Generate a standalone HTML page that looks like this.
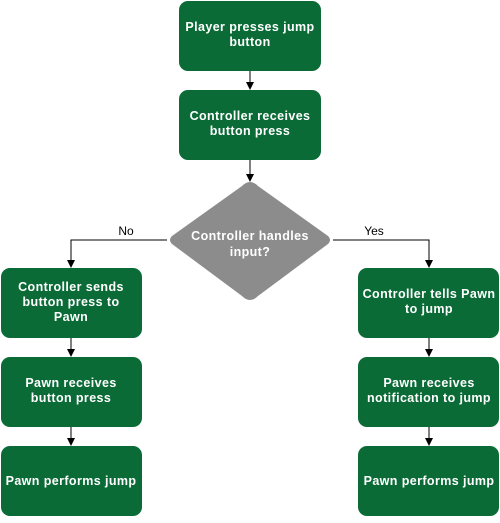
<!DOCTYPE html>
<html><head><style>
body{margin:0;background:#fff;width:500px;height:518px;overflow:hidden}
</style></head><body>
<svg width="500" height="518" viewBox="0 0 500 518" xmlns="http://www.w3.org/2000/svg" font-family="Liberation Sans, sans-serif">
<defs><marker id="a" markerWidth="8" markerHeight="8" refX="7" refY="4" orient="auto" markerUnits="userSpaceOnUse"><path d="M0,0 L8,4 L0,8 Z" fill="#000"/></marker></defs>
<g stroke="#000" stroke-width="1" fill="none">
<line x1="250" y1="71" x2="250" y2="89" marker-end="url(#a)"/>
<line x1="250" y1="160" x2="250" y2="181" marker-end="url(#a)"/>
<polyline points="167,240 71,240 71,267" marker-end="url(#a)"/>
<polyline points="333,240 429,240 429,267" marker-end="url(#a)"/>
<line x1="71" y1="338" x2="71" y2="356" marker-end="url(#a)"/>
<line x1="71" y1="427" x2="71" y2="445" marker-end="url(#a)"/>
<line x1="429" y1="338" x2="429" y2="356" marker-end="url(#a)"/>
<line x1="429" y1="427" x2="429" y2="445" marker-end="url(#a)"/>
</g>
<g fill="#0b6b37">
<rect x="179" y="1" width="142" height="70" rx="9"/>
<rect x="179" y="90" width="142" height="70" rx="9"/>
<rect x="1" y="268" width="141" height="70" rx="9"/>
<rect x="1" y="357" width="141" height="70" rx="9"/>
<rect x="1" y="446" width="141" height="70" rx="9"/>
<rect x="358" y="268" width="141" height="70" rx="9"/>
<rect x="358" y="357" width="141" height="70" rx="9"/>
<rect x="358" y="446" width="141" height="70" rx="9"/>
</g>
<path d="M250,182 Q254,182 258,186 L328,236 Q332,240 328,244 L258,296 Q254,300 250,300 Q246,300 242,296 L172,244 Q168,240 172,236 L242,186 Q246,182 250,182 Z" fill="#8c8c8c"/>
<g fill="#fff" font-size="12.5" font-weight="bold" text-anchor="middle" letter-spacing="0.4">
<text x="250" y="31">Player presses jump</text><text x="250" y="46">button</text>
<text x="250" y="120">Controller receives</text><text x="250" y="135">button press</text>
<text x="250" y="240">Controller handles</text><text x="250" y="256">input?</text>
<text x="71" y="291">Controller sends</text><text x="71" y="306">button press to</text><text x="71" y="321">Pawn</text>
<text x="71" y="387">Pawn receives</text><text x="71" y="402">button press</text>
<text x="71" y="485">Pawn performs jump</text>
<text x="429" y="298">Controller tells Pawn</text><text x="429" y="313">to jump</text>
<text x="429" y="387">Pawn receives</text><text x="429" y="402">notification to jump</text>
<text x="429" y="485">Pawn performs jump</text>
</g>
<g fill="#000" font-size="12" text-anchor="middle">
<text x="126" y="235">No</text><text x="374" y="235">Yes</text>
</g>
</svg>
</body></html>
